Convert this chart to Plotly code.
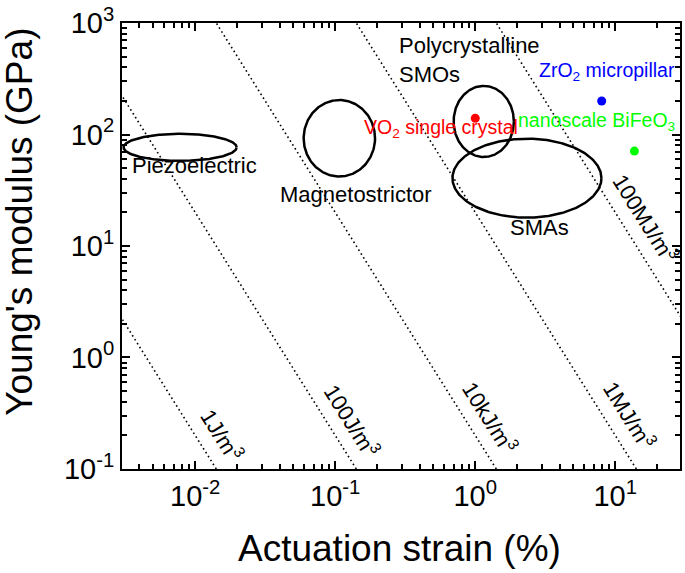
import numpy as np
import plotly.graph_objects as go

# ---------------- data ----------------
# energy-density contour levels (J/m^3): W = 1/2 * E * strain^2
energy_levels = [1, 1e2, 1e4, 1e6, 1e8]
energy_labels = ["1J/m<sup>3</sup>", "100J/m<sup>3</sup>", "10kJ/m<sup>3</sup>",
                 "1MJ/m<sup>3</sup>", "100MJ/m<sup>3</sup>"]
energy_label_modulus = [0.204, 0.272, 0.295, 0.302, 17.8]   # GPa where each label sits

# material classes: ellipse centre (strain %, modulus GPa) and half extent (decades)
class_names = ["Piezoelectric", "Magnetostrictor", "Polycrystalline SMOs", "SMAs"]
class_strain = [0.0078, 0.107, 1.15, 2.34]
class_modulus = [76.7, 92.5, 131, 40.6]
class_strain_span = [0.404, 0.255, 0.215, 0.532]
class_modulus_span = [0.121, 0.343, 0.319, 0.354]
class_label_text = ["Piezoelectric", "Magnetostrictor", "Polycrystalline<br>SMOs", "SMAs"]
class_label_strain = [0.00344, 0.140, 0.275, 2.86]
class_label_modulus = [47.3, 26.2, 423, 13.2]
class_label_anchor = ["left", "center", "left", "center"]

# individual materials
point_names = ["VO<sub>2</sub> single crystal", "ZrO<sub>2</sub> micropillar", "nanoscale BiFeO<sub>3</sub>"]
point_strain = [1.0, 8.0, 13.7]
point_modulus = [140, 200, 71]
point_colors = ["#ff0000", "#0000ff", "#00ff00"]
point_label_strain = [0.155, 2.77, 1.96]
point_label_modulus = [102.6, 329, 119]

x_ticks = [1e-2, 1e-1, 1e0, 1e1]
x_tick_text = ["10<sup>-2</sup>", "10<sup>-1</sup>", "10<sup>0</sup>", "10<sup>1</sup>"]
y_ticks = [1e-1, 1e0, 1e1, 1e2, 1e3]
y_tick_text = ["10<sup>-1</sup>", "10<sup>0</sup>", "10<sup>1</sup>", "10<sup>2</sup>", "10<sup>3</sup>"]

x_min, x_max = 0.003, 29.0
y_min, y_max = 0.1, 1000.0

FONT = "Liberation Sans, Arial, Helvetica, sans-serif"

fig = go.Figure()

# energy-density lines
for W in energy_levels:
    E = np.logspace(np.log10(y_min), np.log10(y_max), 200)
    eps = np.sqrt(2 * W / (1e5 * E))  # strain in %
    fig.add_trace(go.Scatter(x=eps, y=E, mode="lines",
                             line=dict(color="black", width=1.6, dash="1.6px,3px"),
                             hoverinfo="skip", showlegend=False))

# ellipses
t = np.linspace(0, 2 * np.pi, 300)
for cx, cy, rx, ry in zip(class_strain, class_modulus, class_strain_span, class_modulus_span):
    xs = 10 ** (np.log10(cx) + rx * np.cos(t))
    ys = 10 ** (np.log10(cy) + ry * np.sin(t))
    fig.add_trace(go.Scatter(x=xs, y=ys, mode="lines", line=dict(color="black", width=2.5),
                             hoverinfo="skip", showlegend=False))

# points
fig.add_trace(go.Scatter(x=point_strain, y=point_modulus, mode="markers",
                         marker=dict(color=point_colors, size=9),
                         hoverinfo="skip", showlegend=False))

ann = []
for W, txt, Em in zip(energy_levels, energy_labels, energy_label_modulus):
    eps = np.sqrt(2 * W / (1e5 * Em))
    ann.append(dict(x=np.log10(eps), y=np.log10(Em), text=txt, showarrow=False,
                    xanchor="center", yanchor="middle",
                    textangle=58, xshift=27, font=dict(size=22, color="black", family=FONT)))
for txt, sx, sy, anc in zip(class_label_text, class_label_strain, class_label_modulus, class_label_anchor):
    ann.append(dict(x=np.log10(sx), y=np.log10(sy), text=txt, showarrow=False, xanchor=anc,
                    yanchor="middle", align="left", yshift=5,
                    font=dict(size=22, color="black", family=FONT)))
for txt, sx, sy, c in zip(point_names, point_label_strain, point_label_modulus, point_colors):
    ann.append(dict(x=np.log10(sx), y=np.log10(sy), text=txt, showarrow=False, xanchor="left",
                    yanchor="middle", yshift=5, font=dict(size=19.5, color=c, family=FONT)))

# axis titles
ann.append(dict(xref="paper", yref="paper", x=0.497, y=-0.179, xanchor="center", yanchor="middle",
                text="Actuation strain (%)",
                showarrow=False, font=dict(size=37, color="black", family=FONT)))
ann.append(dict(xref="paper", yref="paper", x=-0.184, y=0.555, xanchor="center", yanchor="middle",
                text="Young's modulus (GPa)",
                textangle=-90, showarrow=False, font=dict(size=37, color="black", family=FONT)))

x_minor = [m * 10.0 ** d for d in range(-3, 2) for m in range(2, 10) if x_min < m * 10.0 ** d < x_max]
y_minor = [m * 10.0 ** d for d in range(-1, 3) for m in range(2, 10)]

axis_common = dict(type="log", showgrid=False, zeroline=False, showline=True, linecolor="black",
                   linewidth=2, mirror="ticks", ticks="inside", ticklen=8, tickwidth=2,
                   tickcolor="black", tickmode="array", ticklabeloverflow="allow",
                   tickfont=dict(size=29, color="black", family=FONT))

fig.update_layout(
    width=685, height=573,
    margin=dict(l=122, r=3, t=16, b=104),
    paper_bgcolor="white", plot_bgcolor="white",
    xaxis=dict(range=[np.log10(x_min), np.log10(x_max)], tickvals=x_ticks, ticktext=x_tick_text,
               minor=dict(tickmode="array", tickvals=x_minor, ticks="inside", ticklen=5,
                          tickwidth=1.5, tickcolor="black"),
               **axis_common),
    yaxis=dict(range=[-1.0002, 3.0002], tickvals=y_ticks, ticktext=y_tick_text,
               minor=dict(tickmode="array", tickvals=y_minor, ticks="inside", ticklen=5,
                          tickwidth=1.5, tickcolor="black"),
               **axis_common),
    annotations=ann,
    showlegend=False,
)

fig.write_html("out.html", config={"displayModeBar": False},
               post_script="document.body.style.margin='0px';")
